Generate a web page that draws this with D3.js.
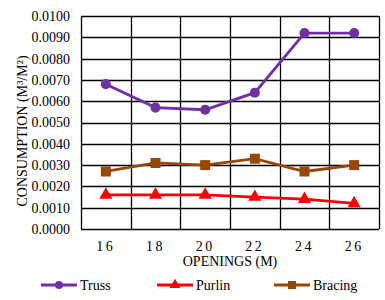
<!DOCTYPE html>
<html><head><meta charset="utf-8">
<script src="https://cdn.jsdelivr.net/npm/d3@7"></script>
<style>body{margin:0;background:#fff}svg{display:block}</style>
</head><body>
<script>
const categories = ["16","18","20","22","24","26"];
const truss   = [0.0068,0.0057,0.0056,0.0064,0.0092,0.0092];
const purlin  = [0.0016,0.0016,0.0016,0.0015,0.0014,0.0012];
const bracing = [0.0027,0.0031,0.0030,0.0033,0.0027,0.0030];
const yTicks  = [0,0.001,0.002,0.003,0.004,0.005,0.006,0.007,0.008,0.009,0.010];
const seriesNames = ["Truss","Purlin","Bracing"];

const FONT="Liberation Serif";
const W=385,H=300;
const m={l:81,r:6,t:16,b:71};
const svg=d3.select("body").append("svg").attr("width",W).attr("height",H);
const x=d3.scaleBand().domain(categories).range([m.l,W-m.r]);
const y=d3.scaleLinear().domain([0,0.01]).range([H-m.b,m.t]);

svg.append("g").selectAll("line").data(yTicks).join("line")
  .attr("x1",m.l).attr("x2",W-m.r).attr("y1",d=>Math.round(y(d))+0.5).attr("y2",d=>Math.round(y(d))+0.5)
  .attr("stroke","#000").attr("stroke-width",1.3);
const vx=categories.map(c=>x(c)).concat([x(categories[categories.length-1])+x.bandwidth()]);
svg.append("g").selectAll("line").data(vx).join("line")
  .attr("x1",d=>Math.round(d)+0.5).attr("x2",d=>Math.round(d)+0.5)
  .attr("y1",m.t).attr("y2",H-m.b).attr("stroke","#000").attr("stroke-width",1.3);

const yAxis=d3.axisLeft(y).tickValues(yTicks).tickFormat(d3.format(".4f")).tickSize(0).tickPadding(11);
const ga=svg.append("g").attr("transform",`translate(${m.l},0)`).call(yAxis);
ga.attr("font-family",FONT).attr("font-size",14);
ga.select(".domain").remove();
ga.selectAll("text").attr("font-family",FONT).attr("font-size",14).attr("fill","#000");

const xAxis=d3.axisBottom(x).tickSize(0).tickPadding(12);
const gx=svg.append("g").attr("transform",`translate(0,${H-m.b})`).call(xAxis);
gx.attr("font-family",FONT).attr("font-size",14);
gx.select(".domain").remove();
gx.selectAll("text").attr("font-family",FONT).attr("font-size",14).attr("fill","#000").attr("letter-spacing","2.5px");

svg.append("text").attr("x",(m.l+W-m.r)/2).attr("y",266).attr("text-anchor","middle")
  .attr("font-family",FONT).attr("font-size",14).text("OPENINGS (M)");
svg.append("text").attr("transform","translate(27,131) rotate(-90)").attr("text-anchor","middle")
  .attr("font-family",FONT).attr("font-size",14).text("CONSUMPTION (M³/M²)");

const series=[
 {name:seriesNames[0],vals:truss,color:"#7030A0",shape:"circle"},
 {name:seriesNames[1],vals:purlin,color:"#FF0000",shape:"triangle"},
 {name:seriesNames[2],vals:bracing,color:"#974706",shape:"square"}
];
const symType={circle:d3.symbolCircle,triangle:d3.symbolTriangle,square:d3.symbolSquare};
const symSize={circle:80,triangle:75,square:100};
const line=d3.line().x((d,i)=>x(categories[i])+x.bandwidth()/2).y(d=>y(d));
series.forEach(s=>{
  svg.append("path").datum(s.vals).attr("d",line).attr("fill","none").attr("stroke",s.color).attr("stroke-width",2.8);
  svg.append("g").selectAll("path").data(s.vals).join("path")
    .attr("transform",(d,i)=>`translate(${x(categories[i])+x.bandwidth()/2},${y(d)})`)
    .attr("d",d3.symbol(symType[s.shape],symSize[s.shape])).attr("fill",s.color);
});

const lx=[41,157,274];
series.forEach((s,i)=>{
  const g=svg.append("g").attr("transform",`translate(${lx[i]},285)`);
  g.append("line").attr("x1",0).attr("x2",36).attr("stroke",s.color).attr("stroke-width",2.8);
  g.append("path").attr("transform","translate(18,0)")
    .attr("d",d3.symbol(symType[s.shape],s.shape==="square"?64:50)()).attr("fill",s.color);
  g.append("text").attr("x",39).attr("y",5).attr("font-family",FONT).attr("font-size",14).text(s.name);
});
</script>
</body></html>
